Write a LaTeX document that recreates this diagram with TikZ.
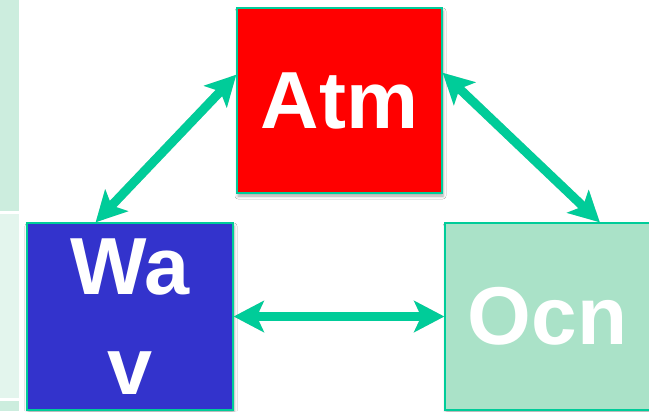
\documentclass[tikz,border=0pt]{standalone}
\usepackage{fontspec}
\setmainfont{Liberation Sans}
\usetikzlibrary{arrows.meta,shadows.blur}

\definecolor{teal}{RGB}{0,204,153}
\definecolor{atmred}{RGB}{255,0,0}
\definecolor{wavblue}{RGB}{51,51,204}
\definecolor{ocngreen}{RGB}{170,226,200}
\definecolor{stripdark}{RGB}{204,237,222}
\definecolor{striplight}{RGB}{227,245,237}

\tikzset{
  compbox/.style={draw=teal, line width=1.5bp, text=white,
    font=\fontsize{81bp}{100bp}\selectfont\bfseries,
    inner sep=0pt, align=center,
    blur shadow={shadow xshift=1bp, shadow yshift=-3bp,
      shadow blur radius=3bp, shadow opacity=35}},
  link/.style={teal, line width=9bp,
    {Stealth[length=30bp,width=31bp,inset=7bp]}-{Stealth[length=30bp,width=31bp,inset=7bp]}},
  linkshadow/.style={black, opacity=0.18, line width=9bp,
    {Stealth[length=30bp,width=31bp,inset=7bp]}-{Stealth[length=30bp,width=31bp,inset=7bp]}}
}

\begin{document}
\begin{tikzpicture}[x=1bp,y=-1bp]
  \useasboundingbox (0,0) rectangle (649,411);
  \fill[white] (0,0) rectangle (649,411);

  % table strip on the left
  \fill[stripdark]  (0,0)   rectangle (19,211);
  \fill[striplight] (0,214) rectangle (19,398);
  \fill[stripdark]  (0,401) rectangle (19,411);

  % component boxes
  \node[compbox, fill=atmred,   minimum width=205bp, minimum height=185bp]
    (atm) at (339.5,100.5) {Atm};
  \node[compbox, fill=wavblue,  minimum width=206bp, minimum height=187bp]
    (wav) at (130,316.5) {Wa\\v};
  \node[compbox, fill=ocngreen, minimum width=205bp, minimum height=187bp,
    font=\fontsize{82bp}{100bp}\selectfont\bfseries]
    (ocn) at (547.5,316.5) {Ocn};

  % coupling arrows: soft shadow first, then the arrow itself
  \begin{scope}[shift={(1.5,3)}]
    \draw[linkshadow] (atm.166) -- (wav.110);
    \draw[linkshadow] (atm.15) -- (ocn.61);
    \draw[linkshadow] (wav.east) -- (ocn.west);
  \end{scope}
  \draw[link] (atm.166) -- (wav.110);
  \draw[link] (atm.15) -- (ocn.61);
  \draw[link] (wav.east) -- (ocn.west);
\end{tikzpicture}
\end{document}
